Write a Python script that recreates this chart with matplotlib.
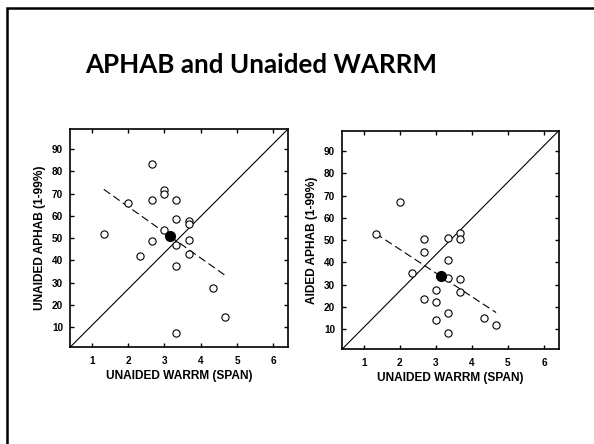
import matplotlib.pyplot as plt
from matplotlib.patches import Rectangle

# unaided WARRM (span) vs unaided APHAB
left_x = [2.67, 3.0, 3.0, 2.67, 3.33, 2.0, 3.33, 3.67, 3.67, 3.0,
          1.33, 2.67, 3.67, 3.33, 2.33, 3.67, 3.33, 4.33, 4.67, 3.33]
left_y = [83.3, 71.8, 70.0, 67.0, 67.1, 65.6, 58.7, 57.7, 56.2, 53.7,
          51.7, 48.7, 49.2, 46.8, 42.1, 43.0, 37.4, 27.8, 14.6, 7.3]
left_mean = (3.15, 51.0)
left_fit_x = [1.33, 4.67]
left_fit_y = [71.9, 33.3]

# unaided WARRM (span) vs aided APHAB
right_x = [2.0, 1.33, 3.67, 3.67, 3.33, 2.67, 2.67, 3.33, 2.33, 3.33,
           3.67, 3.67, 3.0, 3.0, 2.67, 3.33, 3.0, 4.33, 4.67, 3.33]
right_y = [67.3, 52.6, 53.4, 50.5, 51.0, 50.5, 44.5, 41.0, 35.3, 33.2,
           32.7, 26.9, 27.8, 22.3, 23.5, 17.3, 14.2, 14.9, 12.1, 8.1]
right_mean = (3.15, 34.1)
right_fit_x = [1.33, 4.67]
right_fit_y = [53.0, 17.5]

x_ticks = [1, 2, 3, 4, 5, 6]
y_ticks = [10, 20, 30, 40, 50, 60, 70, 80, 90]

TITLE = "APHAB and Unaided WARRM"
X_LABEL = "UNAIDED WARRM (SPAN)"


def draw_panel(ax, xs, ys, mean, fit_x, fit_y, ylabel):
    ax.plot([0, 1], [0, 1], transform=ax.transAxes, color='black', lw=0.8)
    ax.plot(fit_x, fit_y, color='black', lw=0.8, dashes=(7, 3.5))
    ax.plot(xs, ys, 'o', ms=5.2, mfc='white', mec='black', mew=0.8)
    ax.plot([mean[0]], [mean[1]], 'o', ms=7, color='black')

    ax.set_xlim(0.4, 6.4)
    ax.set_ylim(1, 99)
    ax.set_xticks(x_ticks)
    ax.set_yticks(y_ticks)
    ax.tick_params(direction='in', length=3, width=1, top=True, right=True,
                   labelsize=7.2)
    ax.tick_params(axis='x', pad=6)
    ax.tick_params(axis='y', pad=5)
    for lab in ax.get_xticklabels() + ax.get_yticklabels():
        lab.set_fontweight('bold')
    for sp in ax.spines.values():
        sp.set_linewidth(1.2)
    ax.set_xlabel(X_LABEL, fontsize=8.6, fontweight='bold', labelpad=3)
    ax.set_ylabel(ylabel, fontsize=8.6, fontweight='bold', labelpad=4)


plt.rcParams['font.family'] = ['Liberation Sans', 'DejaVu Sans']

fig = plt.figure(figsize=(5.94, 4.44), dpi=100)

# slide frame
fig.add_artist(Rectangle((7 / 594, -0.1), 1.2, 1.1 - 8 / 444,
                         transform=fig.transFigure, fill=False,
                         edgecolor='black', lw=1.8))

fig.text(261 / 594, 1 - 65 / 444, TITLE, ha='center', va='center',
         fontsize=18.7, fontweight='bold', family=['Lato', 'DejaVu Sans'])

ax1 = fig.add_axes([70 / 594, 1 - 347.3 / 444, 218 / 594, 218.3 / 444])
ax2 = fig.add_axes([342 / 594, 1 - 349.3 / 444, 216.5 / 594, 218.3 / 444])

draw_panel(ax1, left_x, left_y, left_mean, left_fit_x, left_fit_y,
           "UNAIDED APHAB (1-99%)")
draw_panel(ax2, right_x, right_y, right_mean, right_fit_x, right_fit_y,
           "AIDED APHAB (1-99%)")

fig.savefig("out.png", dpi=100)
